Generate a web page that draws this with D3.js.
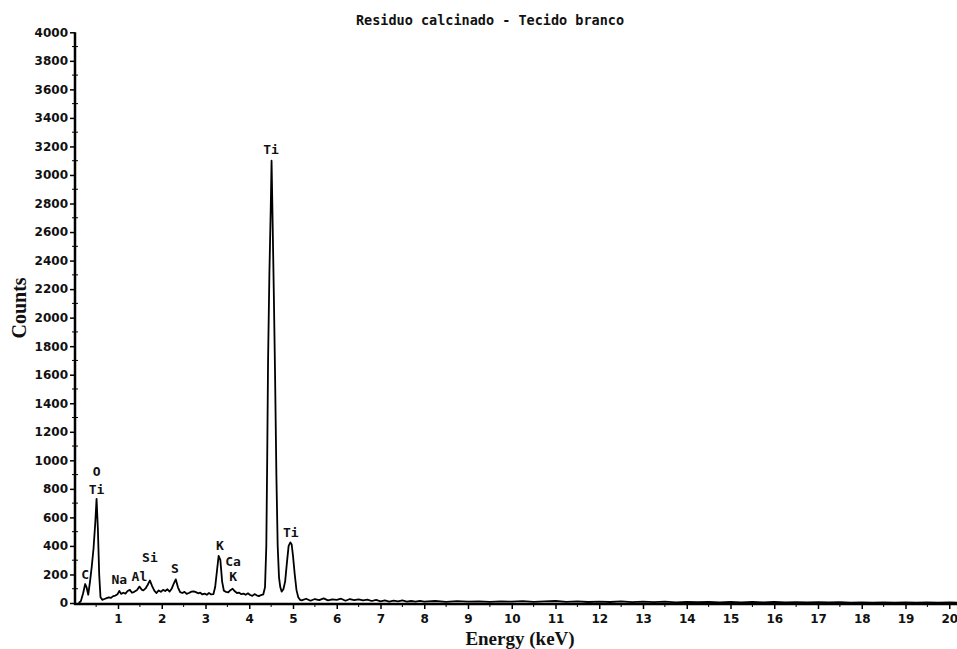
<!DOCTYPE html>
<html>
<head>
<meta charset="utf-8">
<script src="https://cdn.jsdelivr.net/npm/d3@7"></script>
<style>
  body { margin: 0; background: #fff; }
  svg { display: block; }
</style>
</head>
<body>
<svg id="chart" width="957" height="649"></svg>
<script>
// espectro EDS, leido a ojo de la imagen: [energia keV, cuentas]
var spectrum = [
  [0.10, 0], [0.15, 12], [0.20, 65], [0.25, 133], [0.28, 112], [0.32, 58],
  [0.36, 150], [0.40, 255], [0.44, 380], [0.48, 560], [0.51, 730], [0.54, 520],
  [0.57, 200], [0.60, 40], [0.64, 22], [0.69, 28], [0.74, 34], [0.79, 40],
  [0.84, 36], [0.89, 48], [0.94, 52], [0.99, 62], [1.03, 85], [1.07, 64],
  [1.12, 72], [1.17, 66], [1.22, 84], [1.27, 92], [1.32, 72], [1.37, 78],
  [1.43, 90], [1.49, 115], [1.54, 94], [1.58, 88], [1.63, 102], [1.68, 128],
  [1.73, 158], [1.78, 118], [1.83, 86], [1.88, 70], [1.93, 88], [1.98, 78],
  [2.03, 92], [2.08, 84], [2.13, 96], [2.18, 80], [2.23, 102], [2.28, 140],
  [2.32, 166], [2.37, 110], [2.42, 76], [2.47, 70], [2.52, 78], [2.57, 64],
  [2.62, 70], [2.68, 80], [2.73, 82], [2.78, 76], [2.83, 68], [2.88, 72],
  [2.93, 60], [2.98, 66], [3.03, 58], [3.08, 70], [3.13, 60], [3.18, 62],
  [3.22, 110], [3.26, 220], [3.30, 330], [3.34, 300], [3.38, 150], [3.42, 86],
  [3.47, 78], [3.52, 74], [3.57, 90], [3.62, 100], [3.67, 82], [3.72, 70],
  [3.77, 72], [3.82, 62], [3.87, 66], [3.92, 58], [3.97, 68], [4.02, 56],
  [4.07, 50], [4.12, 62], [4.17, 54], [4.22, 48], [4.27, 56], [4.32, 60],
  [4.36, 110], [4.39, 400], [4.41, 1000], [4.43, 1700], [4.46, 2300], [4.49, 2750],
  [4.51, 3100], [4.53, 2750], [4.56, 2200], [4.59, 1600], [4.62, 900], [4.65, 400],
  [4.68, 180], [4.71, 110], [4.74, 80], [4.78, 96], [4.82, 150], [4.86, 280],
  [4.90, 400], [4.94, 425], [4.97, 410], [5.00, 330], [5.04, 200], [5.08, 90],
  [5.12, 40], [5.16, 22], [5.2, 18], [5.3, 30], [5.4, 16], [5.5, 28], [5.6, 20],
  [5.7, 32], [5.8, 18], [5.9, 26], [6.0, 22], [6.1, 30], [6.2, 16], [6.3, 28],
  [6.4, 20], [6.5, 26], [6.6, 18], [6.7, 24], [6.8, 14], [6.9, 22], [7.0, 12],
  [7.1, 18], [7.2, 10], [7.3, 16], [7.4, 12], [7.5, 18], [7.6, 10], [7.7, 14],
  [7.8, 9], [7.9, 15], [8.0, 10], [8.25, 14], [8.5, 8], [8.75, 13], [9.0, 9],
  [9.25, 12], [9.5, 8], [9.75, 12], [10.0, 9], [10.25, 13], [10.5, 8], [10.75, 12],
  [11.0, 14], [11.25, 8], [11.5, 11], [11.75, 7], [12.0, 10], [12.25, 7], [12.5, 11],
  [12.75, 6], [13.0, 9], [13.25, 6], [13.5, 9], [13.75, 5], [14.0, 8], [14.25, 6],
  [14.5, 8], [14.75, 5], [15.0, 7], [15.25, 5], [15.5, 8], [15.75, 5], [16.0, 7],
  [16.25, 4], [16.5, 6], [16.75, 4], [17.0, 6], [17.25, 4], [17.5, 6], [17.75, 3],
  [18.0, 5], [18.25, 3], [18.5, 5], [18.75, 3], [19.0, 4], [19.25, 3], [19.5, 4],
  [19.75, 2], [20.0, 4], [20.2, 3]
];

// etiquetas de los picos (posicion de la base del texto, en unidades de datos)
var peakNames  = ["C", "O", "Ti", "Na", "Al", "Si", "S", "K", "Ca", "K", "Ti", "Ti"];
var peakEnergy = [0.25, 0.51, 0.51, 1.03, 1.49, 1.73, 2.30, 3.33, 3.63, 3.63, 4.50, 4.95];
var peakCounts = [168, 890, 764, 133, 154, 287, 210, 371, 259, 154, 3146, 462];

var yTicks = d3.range(0, 4001, 200);
var xTicks = d3.range(1, 21, 1);

var title = "Residuo calcinado - Tecido branco";

var svg = d3.select("#chart");

var x = d3.scaleLinear().domain([0, 20.2]).range([74.25, 958]);
var y = d3.scaleLinear().domain([0, 4000]).range([603, 32.3]);

// ejes
var gy = svg.append("g")
    .attr("transform", "translate(75,0)")
    .call(d3.axisLeft(y).tickValues(yTicks).tickSize(5).tickPadding(2).tickFormat(d3.format("d")));
gy.select(".domain").remove();

var gx = svg.append("g")
    .attr("transform", "translate(0,604)")
    .call(d3.axisBottom(x).tickValues(xTicks).tickSize(5).tickPadding(5).tickFormat(d3.format("d")));
gx.select(".domain").remove();

svg.selectAll(".tick line").attr("stroke", "#000").attr("stroke-width", 1.5);
svg.selectAll(".tick text")
    .attr("fill", "#111")
    .style("font-family", "DejaVu Sans")
    .style("font-weight", "bold")
    .style("font-size", "12px");

// ticks menores
svg.append("g").selectAll("line")
    .data(d3.range(100, 4000, 200))
    .enter().append("line")
    .attr("x1", 72).attr("x2", 78)
    .attr("y1", function(d) { return y(d); })
    .attr("y2", function(d) { return y(d); })
    .attr("stroke", "#000").attr("stroke-width", 1);

svg.append("g").selectAll("line")
    .data(d3.range(0.5, 20.2, 1))
    .enter().append("line")
    .attr("y1", 604).attr("y2", 607)
    .attr("x1", function(d) { return x(d); })
    .attr("x2", function(d) { return x(d); })
    .attr("stroke", "#000").attr("stroke-width", 1);

// lineas de los ejes
svg.append("line")
    .attr("x1", 75).attr("x2", 75)
    .attr("y1", y(4000)).attr("y2", 605)
    .attr("stroke", "#000").attr("stroke-width", 2.5);
svg.append("line")
    .attr("x1", 74).attr("x2", 957)
    .attr("y1", 604).attr("y2", 604)
    .attr("stroke", "#000").attr("stroke-width", 2.5);

// espectro
var line = d3.line()
    .x(function(d) { return x(d[0]); })
    .y(function(d) { return y(d[1]); });

svg.append("path")
    .datum(spectrum)
    .attr("d", line)
    .attr("fill", "none")
    .attr("stroke", "#000")
    .attr("stroke-width", 1.8)
    .attr("stroke-linejoin", "round");

// etiquetas
svg.append("g").selectAll("text")
    .data(peakNames)
    .enter().append("text")
    .attr("x", function(d, i) { return x(peakEnergy[i]); })
    .attr("y", function(d, i) { return y(peakCounts[i]); })
    .attr("text-anchor", "middle")
    .style("font-family", "DejaVu Sans Mono")
    .style("font-weight", "bold")
    .style("font-size", "13px")
    .attr("fill", "#111")
    .text(function(d) { return d; });

svg.append("text")
    .attr("x", 490).attr("y", 25)
    .attr("text-anchor", "middle")
    .style("font-family", "DejaVu Sans Mono")
    .style("font-weight", "bold")
    .style("font-size", "13.5px")
    .attr("fill", "#111")
    .text(title);

svg.append("text")
    .attr("x", 520).attr("y", 645)
    .attr("text-anchor", "middle")
    .style("font-family", "Liberation Serif")
    .style("font-weight", "bold")
    .style("font-size", "19px")
    .attr("fill", "#111")
    .text("Energy (keV)");

svg.append("text")
    .attr("transform", "translate(26,308) rotate(-90)")
    .attr("text-anchor", "middle")
    .style("font-family", "Liberation Serif")
    .style("font-weight", "bold")
    .style("font-size", "20px")
    .attr("fill", "#111")
    .text("Counts");
</script>
</body>
</html>
